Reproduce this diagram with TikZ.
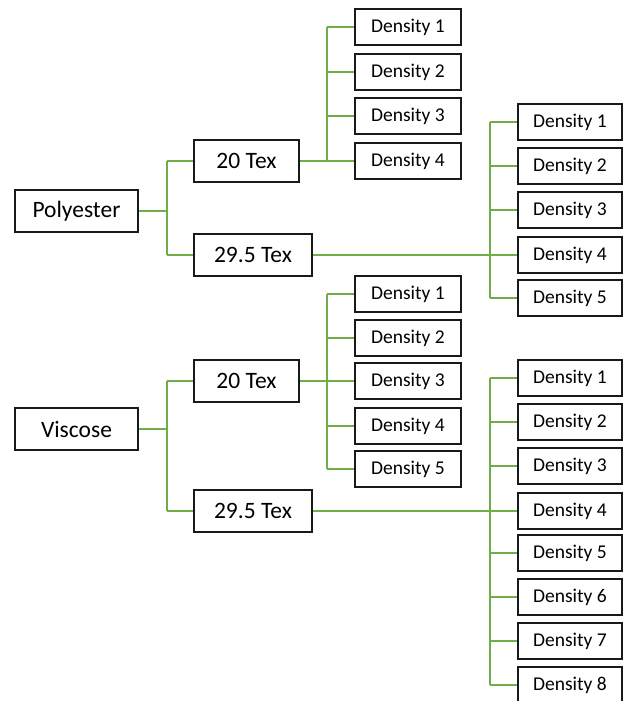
\documentclass[tikz,border=0pt]{standalone}
\usepackage{fontspec}
\setmainfont{Carlito}
\definecolor{lgreen}{RGB}{112,173,71}
\definecolor{boxline}{RGB}{25,25,25}
\tikzset{
  basebox/.style={draw=boxline, line width=2pt, inner sep=0pt, fill=white},
  mainbox/.style={basebox, minimum height=42pt, font=\fontsize{23.5}{27}\selectfont},
  dbox/.style={basebox, minimum height=36pt, font=\fontsize{19.5}{22}\selectfont},
  dboxA/.style={dbox, minimum width=106pt},
  dboxB/.style={dbox, minimum width=104pt},
  link/.style={draw=lgreen, line width=2pt}
}
\begin{document}
\begin{tikzpicture}[x=1pt,y=-1pt]
\clip (0,0) rectangle (624,701);
\useasboundingbox (0,0) rectangle (624,701);
% bus coordinates
\coordinate (busP) at (167,0);
\coordinate (busA) at (327,0);
\coordinate (busB) at (490,0);
% Polyester
\node[mainbox, minimum width=123pt] (poly) at (76.5,211) {Polyester};
\node[mainbox, minimum width=105pt] (p20) at (246.5,161) {20 Tex};
\node[mainbox, minimum width=118pt] (p29) at (253,255) {29.5 Tex};
\foreach \i/\y in {1/27,2/72,3/116,4/161}
  \node[dboxA] (pa\i) at (408,\y) {Density \i};
\foreach \i/\y in {1/122,2/166,3/210,4/255,5/298}
  \node[dboxB] (pb\i) at (570,\y) {Density \i};
% Viscose
\node[mainbox, minimum width=123pt] (visc) at (76.5,429) {Viscose};
\node[mainbox, minimum width=105pt] (v20) at (246.5,381) {20 Tex};
\node[mainbox, minimum width=118pt] (v29) at (253,511) {29.5 Tex};
\foreach \i/\y in {1/294,2/338,3/381,4/426,5/469}
  \node[dboxA] (va\i) at (408,\y) {Density \i};
\foreach \i/\y in {1/378,2/422,3/466,4/511,5/553,6/597,7/641,8/685}
  \node[dboxB] (vb\i) at (570,\y) {Density \i};
% Polyester connectors
\path[link] (poly.east) -- (poly.east -| busP);
\path[link] (busP |- p20.west) -- (busP |- p29.west);
\foreach \n in {p20,p29} \path[link] (busP |- \n.west) -- (\n.west);
\path[link] (p20.east) -- (p20.east -| busA);
\path[link] (busA |- pa1.west) -- (busA |- pa4.west);
\foreach \i in {1,...,4} \path[link] (busA |- pa\i.west) -- (pa\i.west);
\path[link] (p29.east) -- (p29.east -| busB);
\path[link] (busB |- pb1.west) -- (busB |- pb5.west);
\foreach \i in {1,...,5} \path[link] (busB |- pb\i.west) -- (pb\i.west);
% Viscose connectors
\path[link] (visc.east) -- (visc.east -| busP);
\path[link] (busP |- v20.west) -- (busP |- v29.west);
\foreach \n in {v20,v29} \path[link] (busP |- \n.west) -- (\n.west);
\path[link] (v20.east) -- (v20.east -| busA);
\path[link] (busA |- va1.west) -- (busA |- va5.west);
\foreach \i in {1,...,5} \path[link] (busA |- va\i.west) -- (va\i.west);
\path[link] (v29.east) -- (v29.east -| busB);
\path[link] (busB |- vb1.west) -- (busB |- vb8.west);
\foreach \i in {1,...,8} \path[link] (busB |- vb\i.west) -- (vb\i.west);
\end{tikzpicture}
\end{document}
